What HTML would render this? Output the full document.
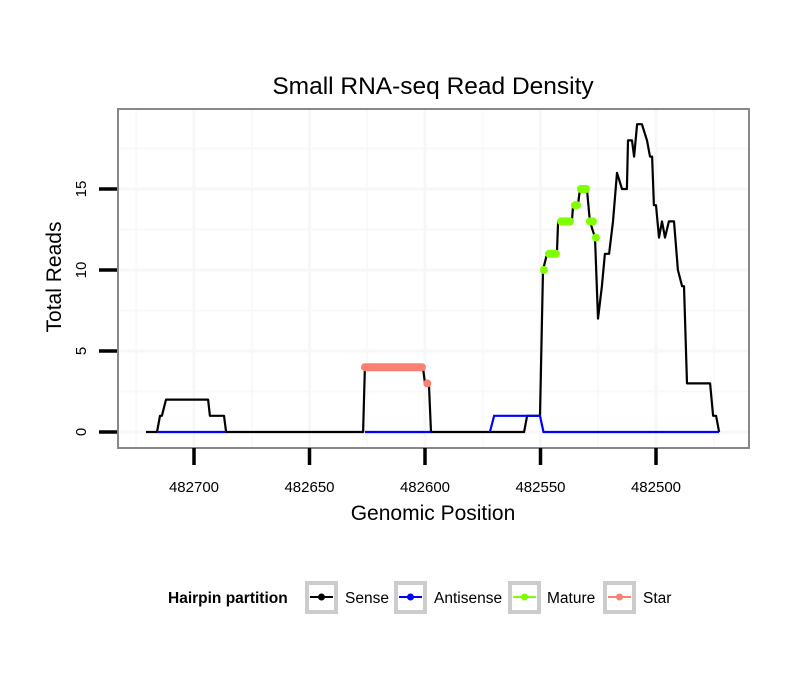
<!DOCTYPE html>
<html><head><meta charset="utf-8"><style>
body{margin:0;background:#fff;}
svg text{font-family:"Liberation Sans",sans-serif;}
</style></head><body>
<svg id="chart" width="810" height="690" viewBox="0 0 810 690" xmlns="http://www.w3.org/2000/svg">
<rect width="810" height="690" fill="#fff"/>
<text x="433" y="94" font-size="24.5" text-anchor="middle">Small RNA-seq Read Density</text>
<g id="grid"></g>
<g id="series"></g>
<rect x="118" y="109" width="631" height="339" fill="none" stroke="#888" stroke-width="2"/>
<g id="axes"></g>
<text x="433" y="520" font-size="21" text-anchor="middle">Genomic Position</text>
<text transform="translate(61,277) rotate(-90)" font-size="21" text-anchor="middle">Total Reads</text>
<g>
<text x="168" y="603" font-size="15.5" font-weight="bold">Hairpin partition</text>
<g><rect x="307" y="583" width="29" height="29" fill="#fff" stroke="#ccc" stroke-width="4"/><line x1="310" x2="333" y1="597" y2="597" stroke="#000" stroke-width="2"/><circle cx="321.5" cy="597" r="3.5" fill="#000"/><text x="345" y="603" font-size="15.5">Sense</text></g>
<g><rect x="396" y="583" width="29" height="29" fill="#fff" stroke="#ccc" stroke-width="4"/><line x1="399" x2="422" y1="597" y2="597" stroke="#00f" stroke-width="2"/><circle cx="410.5" cy="597" r="3.5" fill="#00f"/><text x="434" y="603" font-size="15.5">Antisense</text></g>
<g><rect x="510" y="583" width="29" height="29" fill="#fff" stroke="#ccc" stroke-width="4"/><line x1="513" x2="536" y1="597" y2="597" stroke="#7fff00" stroke-width="2"/><circle cx="524.5" cy="597" r="3.5" fill="#7fff00"/><text x="547" y="603" font-size="15.5">Mature</text></g>
<g><rect x="605" y="583" width="29" height="29" fill="#fff" stroke="#ccc" stroke-width="4"/><line x1="608" x2="631" y1="597" y2="597" stroke="#fa8072" stroke-width="2"/><circle cx="619.5" cy="597" r="3.5" fill="#fa8072"/><text x="643" y="603" font-size="15.5">Star</text></g>
</g>
</svg>
<script>
const senseX=[482720.8,482716,482714.7,482713.9,482712.1,482693.9,482693.1,482687,482686.1,482626.8,482626,482600.9,482600,482598.3,482597.4,482557.1,482555.8,482550.2,482548.9,482547.2,482542.9,482542.4,482536.4,482535.9,482533.8,482532.9,482529.9,482528.6,482526.4,482525.1,482523.4,482522.1,482520.3,482518.6,482516.9,482514.7,482512.6,482512.1,482510.4,482509.5,482508.2,482506.1,482503.9,482502.6,482501.7,482500.9,482500,482498.7,482497.4,482496.1,482494.4,482492.2,482490.5,482488.7,482487.9,482486.6,482476.6,482475.3,482474,482472.7];
const senseY=[0,0,1,1,2,2,1,1,0,0,4,4,3,3,0,0,1,1,10,11,11,13,13,14,14,15,15,13,12,7,9,11,11,13,16,15,15,18,18,17,19,19,18,17,17,14,14,12,13,12,13,13,10,9,9,3,3,1,1,0];
const antiSegsX=[[482716,482686.1],[482626,482597.4],[482571.9,482570.1,482550.2,482548.7,482472.7]];
const antiSegsY=[[0,0],[0,0],[0,1,1,0,0]];
const matureStart=[482548.5,482546.3,482541.1,482535.1,482532.5,482528.6,482526];
const matureEnd=[482548.5,482543.3,482537.2,482534.2,482530.3,482527.3,482526];
const matureVal=[10,11,13,14,15,13,12];
const starStart=[482626,482599];
const starEnd=[482601.3,482599];
const starVal=[4,3];
const xTicks=[482700,482650,482600,482550,482500];
const xMinor=[482725,482675,482625,482575,482525,482475];
const yTicks=[0,5,10,15];
const yMinor=[2.5,7.5,12.5,17.5];

const NS='http://www.w3.org/2000/svg';
const sx=p=>194+(482700-p)*2.31;
const sy=v=>432-v*16.2;
function mk(tag,attrs,parent){const e=document.createElementNS(NS,tag);for(const k in attrs)e.setAttribute(k,attrs[k]);parent.appendChild(e);return e;}
const grid=document.getElementById('grid'),series=document.getElementById('series'),axes=document.getElementById('axes');
mk('rect',{x:118,y:109,width:631,height:339,fill:'#fff'},grid);
xMinor.forEach(p=>{const l=mk('line',{x1:sx(p),x2:sx(p),y1:110,y2:447,stroke:'#f9f9f9','stroke-width':2},grid);});
yMinor.forEach(v=>{const l=mk('line',{x1:119,x2:748,y1:sy(v),y2:sy(v),stroke:'#f8f8f8','stroke-width':2},grid);});
xTicks.forEach(p=>{const l=mk('line',{x1:sx(p),x2:sx(p),y1:110,y2:447,stroke:'#f7f7f7','stroke-width':3},grid);});
yTicks.forEach(v=>{const l=mk('line',{x1:119,x2:748,y1:sy(v),y2:sy(v),stroke:'#f7f7f7','stroke-width':3},grid);});
let d=senseX.map((p,i)=>(i?'L':'M')+sx(p).toFixed(1)+','+sy(senseY[i]).toFixed(1)).join('');
const sp=mk('path',{d:d,fill:'none',stroke:'#000','stroke-width':2.2,'stroke-linejoin':'round'},series);


antiSegsX.forEach((xs,j)=>{const dd=xs.map((p,i)=>(i?'L':'M')+sx(p).toFixed(1)+','+sy(antiSegsY[j][i]).toFixed(1)).join('');
const a=mk('path',{d:dd,fill:'none',stroke:'#00f','stroke-width':2.2},series);

});
matureVal.forEach((v,i)=>{const m=mk('line',{x1:sx(matureStart[i]),x2:sx(matureEnd[i])+0.01,y1:sy(v),y2:sy(v),stroke:'#7fff00','stroke-width':8,'stroke-linecap':'round'},series);

});
starVal.forEach((v,i)=>{const m=mk('line',{x1:sx(starStart[i]),x2:sx(starEnd[i])+0.01,y1:sy(v),y2:sy(v),stroke:'#fa8072','stroke-width':8,'stroke-linecap':'round'},series);

});
xTicks.forEach(p=>{const t=mk('line',{x1:sx(p),x2:sx(p),y1:448,y2:465,stroke:'#000','stroke-width':3.5},axes);
const tx=mk('text',{x:sx(p),y:492,'font-size':15,'text-anchor':'middle'},axes);tx.textContent=p;});
yTicks.forEach(v=>{const t=mk('line',{x1:99,x2:117,y1:sy(v),y2:sy(v),stroke:'#000','stroke-width':3.5},axes);
const tx=mk('text',{transform:'translate(86,'+sy(v)+') rotate(-90)','font-size':15,'text-anchor':'middle'},axes);tx.textContent=v;});
</script>
</body></html>
